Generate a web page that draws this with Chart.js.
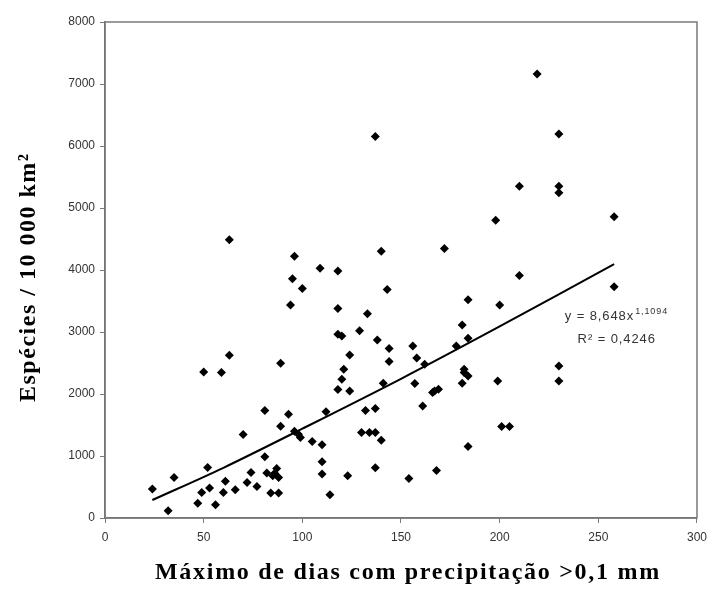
<!DOCTYPE html>
<html lang="pt">
<head>
  <meta charset="UTF-8" />
  <title>Espécies vs dias com precipitação</title>
  <script src="https://cdn.jsdelivr.net/npm/chart.js"></script>
  <style>
    html, body { margin: 0; padding: 0; background: #fff; }
    #wrap { width: 714px; height: 592px; }
  </style>
</head>
<body>
<div id="wrap"><canvas id="chart" width="714" height="592"></canvas></div>
<script type="text/javascript">
  // Valores
  const diasPrecip = [
    24, 32, 35, 50, 59, 63, 89, 81, 93, 89, 70, 96, 98, 99, 52, 81, 74, 61, 49, 53,
    60, 66, 47, 56, 72, 77, 82, 85, 87, 88, 86, 84, 88, 63, 96, 95, 100, 94, 137, 140,
    172, 109, 118, 143, 118, 184, 133, 129, 181, 118, 120, 138, 184, 144, 156, 158, 144, 124, 121, 120,
    118, 124, 141, 157, 162, 178, 182, 182, 184, 181, 166, 167, 169, 161, 112, 132, 137, 105, 110, 130,
    134, 137, 140, 110, 110, 123, 137, 114, 154, 168, 184, 199, 230, 230, 201, 205, 219, 230, 210, 230,
    230, 198, 258, 210, 258, 200
  ];
  const especies = [
    467, 118, 655, 2356, 2345, 2624, 2496, 1734, 1674, 1481, 1347, 1400, 1352, 1299, 816, 987, 735, 591, 413, 483,
    413, 456, 236, 215, 574, 510, 724, 681, 800, 655, 720, 402, 402, 4487, 4223, 3859, 3703, 3434, 6155, 4304,
    4347, 4030, 3982, 3687, 3381, 3521, 3295, 3022, 3112, 2962, 2935, 2870, 2898, 2732, 2774, 2581, 2523, 2629, 2399, 2238,
    2072, 2050, 2174, 2169, 2479, 2774, 2399, 2346, 2291, 2174, 2024, 2050, 2077, 1808, 1712, 1734, 1766, 1235, 1181, 1380,
    1380, 1380, 1256, 906, 708, 681, 810, 375, 639, 768, 1154, 2211, 2452, 2211, 1476, 1476, 7160, 6194, 5350, 5350,
    5244, 4803, 4857, 3912, 3730, 3434
  ];
  // Linha de tendência (potência), lida ao longo da curva desenhada
  const trendX = [24, 60, 100, 150, 200, 258];
  const trendY = [290, 810, 1440, 2245, 3090, 4095];

  const xTicks = [0, 50, 100, 150, 200, 250, 300];
  const yTicks = [0, 1000, 2000, 3000, 4000, 5000, 6000, 7000, 8000];

  const xTitle = 'Máximo de dias com precipitação >0,1 mm';
  const yTitle = 'Espécies / 10 000 km²';
  const eqMain = 'y = 8,648x';
  const eqExp = '1,1094';
  const eqR2 = 'R² = 0,4246';

  const tickFont = { family: '"Liberation Sans", Arial, sans-serif', size: 12 };

  // Moldura, títulos dos eixos e equação
  const extras = {
    id: 'extras',
    beforeDatasetsDraw(chart) {
      const { ctx, chartArea: a } = chart;
      ctx.save();
      ctx.strokeStyle = '#7a7a7a';
      ctx.lineWidth = 1.5;
      ctx.strokeRect(a.left, a.top, a.right - a.left, a.bottom - a.top);
      ctx.restore();
    },
    afterDraw(chart) {
      const { ctx, scales } = chart;
      ctx.save();
      ctx.fillStyle = '#000';
      ctx.font = 'bold 24px "Liberation Serif", "Times New Roman", serif';
      ctx.textAlign = 'left';
      ctx.textBaseline = 'alphabetic';

      // título do eixo x, com a largura do original
      let w = ctx.measureText(xTitle).width;
      ctx.letterSpacing = Math.max(0, (504 - w) / (xTitle.length - 1)).toFixed(2) + 'px';
      ctx.fillText(xTitle, 155, 579);

      // título do eixo y
      ctx.letterSpacing = '0px';
      w = ctx.measureText(yTitle).width;
      ctx.letterSpacing = Math.max(0, (248 - w) / (yTitle.length - 1)).toFixed(2) + 'px';
      ctx.translate(35, 402);
      ctx.rotate(-Math.PI / 2);
      ctx.fillText(yTitle, 0, 0);
      ctx.restore();

      // equação da tendência
      ctx.save();
      ctx.fillStyle = '#333';
      ctx.letterSpacing = '0.9px';
      ctx.font = '13px "Liberation Sans", Arial, sans-serif';
      const ex = scales.x.getPixelForValue(233);
      const ey = scales.y.getPixelForValue(3190);
      ctx.fillText(eqMain, ex, ey);
      const mw = ctx.measureText(eqMain).width;
      ctx.font = '9px "Liberation Sans", Arial, sans-serif';
      ctx.fillText(eqExp, ex + mw + 1, ey - 6);
      ctx.font = '13px "Liberation Sans", Arial, sans-serif';
      ctx.fillText(eqR2, scales.x.getPixelForValue(239.5), scales.y.getPixelForValue(2830));
      ctx.restore();
    }
  };

  const points = diasPrecip.map((d, i) => ({ x: d, y: especies[i] }));
  const trend = trendX.map((d, i) => ({ x: d, y: trendY[i] }));

  new Chart(document.getElementById('chart'), {
    type: 'scatter',
    data: {
      datasets: [{
        label: 'Espécies',
        data: points,
        pointStyle: 'rectRot',
        pointRadius: 4.5,
        backgroundColor: '#000',
        borderColor: '#000',
        borderWidth: 0
      }, {
        type: 'line',
        label: 'Potência',
        data: trend,
        borderColor: '#000',
        borderWidth: 2,
        pointRadius: 0,
        tension: 0.3,
        fill: false
      }]
    },
    options: {
      responsive: false,
      animation: false,
      layout: { padding: { top: 22, right: 14, left: 0, bottom: 0 } },
      plugins: { legend: { display: false }, tooltip: { enabled: false } },
      scales: {
        x: {
          type: 'linear',
          min: 0, max: 300,
          afterFit(s) { s.height = 74; },
          afterBuildTicks(s) { s.ticks = xTicks.map(v => ({ value: v })); },
          ticks: { color: '#333', font: tickFont, padding: 7, maxRotation: 0, callback: v => String(v) },
          grid: { drawOnChartArea: false, drawTicks: true, tickLength: 5, color: '#7a7a7a' },
          border: { display: true, color: '#6a6a6a', width: 1.5 }
        },
        y: {
          min: 0, max: 8000,
          afterFit(s) { s.width = 105; },
          afterBuildTicks(s) { s.ticks = yTicks.map(v => ({ value: v })); },
          ticks: { color: '#333', font: tickFont, padding: 5, callback: v => String(v) },
          grid: { drawOnChartArea: false, drawTicks: true, tickLength: 5, color: '#7a7a7a' },
          border: { display: true, color: '#6a6a6a', width: 1.5 }
        }
      }
    },
    plugins: [extras]
  });
</script>
</body>
</html>
